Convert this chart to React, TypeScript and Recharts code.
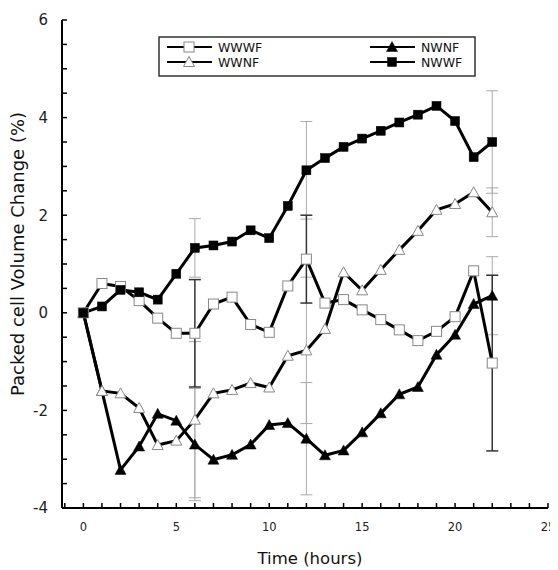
import React from 'react';
import { LineChart, Line, XAxis, YAxis, ErrorBar, Legend } from 'recharts';

const hours = [0, 1, 2, 3, 4, 5, 6, 7, 8, 9, 10, 11, 12, 13, 14, 15, 16, 17, 18, 19, 20, 21, 22];
const wwwf = [0, 0.6, 0.54, 0.25, -0.11, -0.42, -0.42, 0.18, 0.32, -0.24, -0.4, 0.55, 1.1, 0.2, 0.27, 0.06, -0.14, -0.35, -0.57, -0.38, -0.08, 0.86, -1.03];
const wwnf = [0, -1.6, -1.65, -1.95, -2.71, -2.62, -2.19, -1.65, -1.58, -1.44, -1.53, -0.88, -0.77, -0.33, 0.83, 0.46, 0.88, 1.29, 1.68, 2.11, 2.23, 2.47, 2.06];
const nwnf = [0, -1.6, -3.22, -2.74, -2.07, -2.21, -2.7, -3.01, -2.91, -2.7, -2.3, -2.26, -2.58, -2.92, -2.82, -2.45, -2.06, -1.67, -1.52, -0.86, -0.45, 0.18, 0.35];
const nwwf = [0, 0.13, 0.47, 0.42, 0.27, 0.8, 1.33, 1.38, 1.46, 1.69, 1.53, 2.19, 2.92, 3.17, 3.4, 3.57, 3.73, 3.9, 4.06, 4.24, 3.93, 3.19, 3.5];

const errHours = [6, 12, 22];
const wwwfErr = [1.1, 0.9, 1.8];
const nwwfErr = [0.6, 1.0, 1.05];
const wwnfErr = [1.6, 1.5, 0.5];
const nwnfErr = [1.15, 1.15, 0.8];

const xTicks = [-1, 0, 1, 2, 3, 4, 5, 6, 7, 8, 9, 10, 11, 12, 13, 14, 15, 16, 17, 18, 19, 20, 21, 22, 23, 24, 25];
const xTickLabels = [0, 5, 10, 15, 20, 25];
const yTicks = [-4, -3.5, -3, -2.5, -2, -1.5, -1, -0.5, 0, 0.5, 1, 1.5, 2, 2.5, 3, 3.5, 4, 4.5, 5, 5.5, 6];
const yTickLabels = [-4, -2, 0, 2, 4, 6];

const errAt = (arr: number[], h: number) => {
  const i = errHours.indexOf(h);
  return i >= 0 ? arr[i] : null;
};

const data = hours.map((h, i) => ({
  h,
  WWWF: wwwf[i],
  WWNF: wwnf[i],
  NWNF: nwnf[i],
  NWWF: nwwf[i],
  eWWWF: errAt(wwwfErr, h),
  eWWNF: errAt(wwnfErr, h),
  eNWNF: errAt(nwnfErr, h),
  eNWWF: errAt(nwwfErr, h),
}));

type Shape = 'openSquare' | 'openTri' | 'fillTri' | 'fillSquare';

const Marker = ({ cx, cy, shape }: { cx: number; cy: number; shape: Shape }) => {
  if (cx == null || cy == null) return null;
  if (shape === 'openSquare') {
    return <rect x={cx - 5} y={cy - 5} width={10} height={10} fill="#fff" stroke="#888" strokeWidth={1} />;
  }
  if (shape === 'fillSquare') {
    return <rect x={cx - 4.5} y={cy - 4.5} width={9} height={9} fill="#000" stroke="#000" strokeWidth={0.5} />;
  }
  const pts = `${cx},${cy - 5.5} ${cx + 5.5},${cy + 4.5} ${cx - 5.5},${cy + 4.5}`;
  if (shape === 'openTri') {
    return <polygon points={pts} fill="#fff" stroke="#888" strokeWidth={1} />;
  }
  return <polygon points={pts} fill="#000" stroke="#000" strokeWidth={0.5} />;
};

const makeDot = (shape: Shape) => (p: any) => <Marker key={`${shape}-${p.index}`} cx={p.cx} cy={p.cy} shape={shape} />;

const XTick = (props: any) => {
  const { x, y, payload } = props;
  const v = payload.value;
  const show = xTickLabels.indexOf(v) >= 0;
  return (
    <g>
      <line x1={x} x2={x} y1={y} y2={y - 5} stroke="#000" strokeWidth={1.5} />
      {show && (
        <text x={x} y={y + 23} textAnchor="middle" fontSize={11.5} fill="#222" fontFamily="DejaVu Sans">
          {v}
        </text>
      )}
    </g>
  );
};

const YTick = (props: any) => {
  const { x, y, payload } = props;
  const v = payload.value;
  const show = yTickLabels.indexOf(v) >= 0;
  return (
    <g>
      <line x1={x} x2={x + 5} y1={y} y2={y} stroke="#000" strokeWidth={1.5} />
      {show && (
        <text x={x - 14} y={y} dy="0.36em" textAnchor="end" fontSize={15} fill="#222" fontFamily="DejaVu Sans">
          {v}
        </text>
      )}
    </g>
  );
};

const legendItems: { name: string; shape: Shape; col: number; row: number }[] = [
  { name: 'WWWF', shape: 'openSquare', col: 0, row: 0 },
  { name: 'NWNF', shape: 'fillTri', col: 1, row: 0 },
  { name: 'WWNF', shape: 'openTri', col: 0, row: 1 },
  { name: 'NWWF', shape: 'fillSquare', col: 1, row: 1 },
];

const renderLegend = () => (
  <svg width={318} height={41} style={{ display: 'block' }}>
    <rect x={1} y={1} width={316} height={39} fill="#fff" stroke="#333" strokeWidth={1.5} />
    {legendItems.map((it) => {
      const x0 = it.col === 0 ? 9 : 212;
      const yy = it.row === 0 ? 11 : 26;
      return (
        <g key={it.name}>
          <line x1={x0} x2={x0 + 45} y1={yy} y2={yy} stroke="#000" strokeWidth={2} />
          <Marker cx={x0 + 22} cy={yy} shape={it.shape} />
          <text x={x0 + 51} y={yy} dy="0.36em" fontSize={12.5} fill="#111" fontFamily="DejaVu Sans">
            {it.name}
          </text>
        </g>
      );
    })}
  </svg>
);

export default function App() {
  return (
    <div>
      <style>{`html, body { overflow: hidden; } .recharts-surface { overflow: visible; }`}</style>
      <LineChart width={550} height={562} data={data} margin={{ top: 12, right: 10, bottom: 0, left: 0 }}>
        <XAxis
          dataKey="h"
          type="number"
          domain={[-1.15, 25]}
          ticks={xTicks}
          interval={0}
          tickSize={0}
          tickMargin={0}
          tick={<XTick />}
          tickLine={false}
          height={62}
          allowDataOverflow
          axisLine={{ stroke: '#000', strokeWidth: 2 }}
          label={{ value: 'Time (hours)', position: 'insideBottom', offset: 6, dx: 5, fontSize: 16.5, fill: '#111', fontFamily: 'DejaVu Sans' }}
        />
        <YAxis
          type="number"
          domain={[-4, 6]}
          ticks={yTicks}
          interval={0}
          tickSize={0}
          tickMargin={0}
          tick={<YTick />}
          tickLine={false}
          width={54}
          axisLine={{ stroke: '#000', strokeWidth: 2 }}
          label={{
            value: 'Packed cell Volume Change (%)',
            angle: -90,
            position: 'insideLeft',
            offset: 10,
            dy: -10,
            fontSize: 18,
            fill: '#111',
            fontFamily: 'DejaVu Sans',
            style: { textAnchor: 'middle' },
          }}
        />
        <Legend
          layout="horizontal"
          verticalAlign="middle"
          align="center"
          content={renderLegend}
          wrapperStyle={{ position: 'absolute', left: 150, top: 28, width: 318, height: 41 }}
        />
        <Line dataKey="NWWF" stroke="none" dot={false} isAnimationActive={false} legendType="none">
          <ErrorBar dataKey="eNWWF" direction="y" width={6} stroke="#aaa" strokeWidth={1} />
        </Line>
        <Line dataKey="WWNF" stroke="none" dot={false} isAnimationActive={false} legendType="none">
          <ErrorBar dataKey="eWWNF" direction="y" width={6} stroke="#aaa" strokeWidth={1} />
        </Line>
        <Line dataKey="NWNF" stroke="none" dot={false} isAnimationActive={false} legendType="none">
          <ErrorBar dataKey="eNWNF" direction="y" width={6} stroke="#aaa" strokeWidth={1} />
        </Line>
        <Line dataKey="WWWF" stroke="none" dot={false} isAnimationActive={false} legendType="none">
          <ErrorBar dataKey="eWWWF" direction="y" width={6} stroke="#333" strokeWidth={1.5} />
        </Line>
        <Line dataKey="NWNF" type="linear" stroke="#000" strokeWidth={3} dot={makeDot('fillTri')} isAnimationActive={false} />
        <Line dataKey="WWNF" type="linear" stroke="#000" strokeWidth={3} dot={makeDot('openTri')} isAnimationActive={false} />
        <Line dataKey="WWWF" type="linear" stroke="#000" strokeWidth={3} dot={makeDot('openSquare')} isAnimationActive={false} />
        <Line dataKey="NWWF" type="linear" stroke="#000" strokeWidth={3} dot={makeDot('fillSquare')} isAnimationActive={false} />
      </LineChart>
    </div>
  );
}
